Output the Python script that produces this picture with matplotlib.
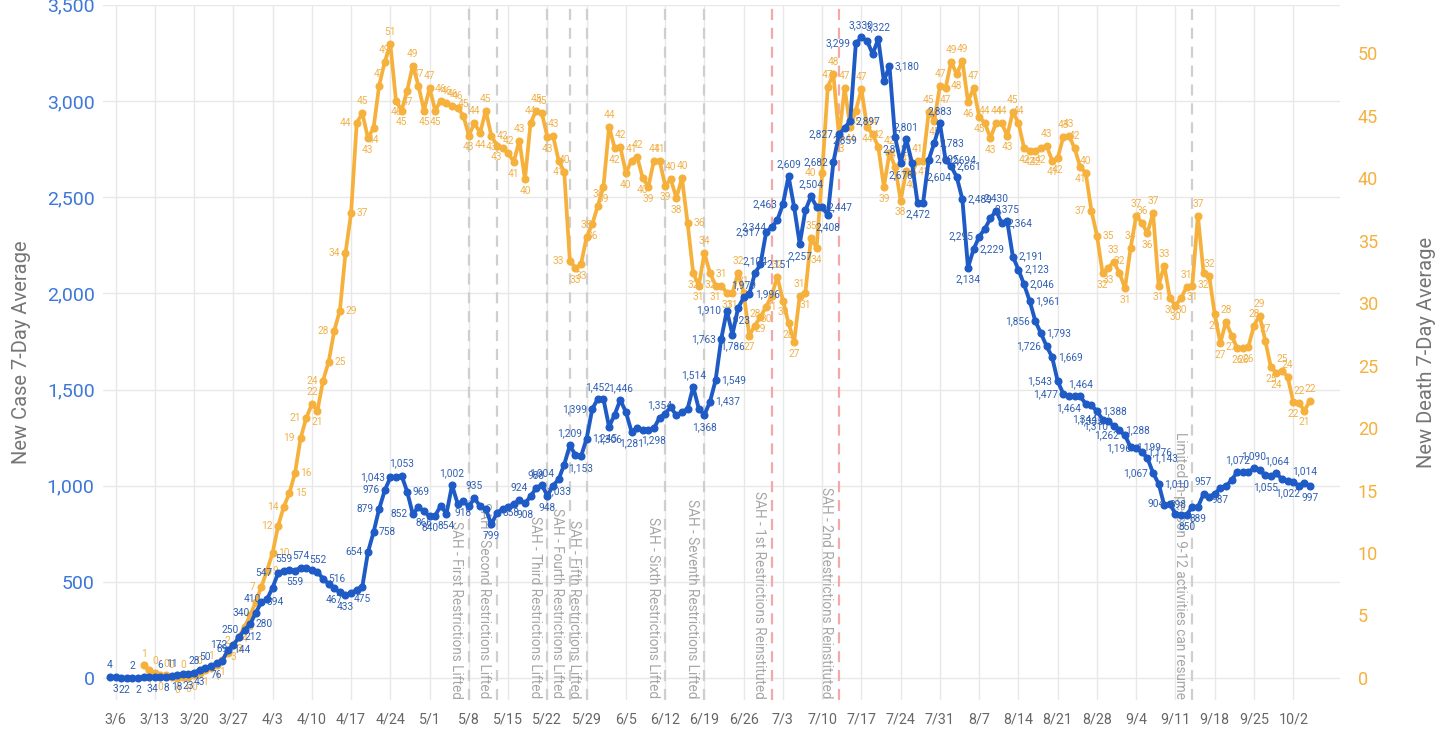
import matplotlib
matplotlib.use('Agg')
import matplotlib.dates as mdates
import matplotlib.pyplot as plt
import matplotlib.ticker as mticker
import matplotlib.transforms as mtransforms
import numpy as np
import pandas as pd

plt.rcParams['font.family'] = ['Roboto', 'DejaVu Sans']

start_date = '2020-03-05'

# new cases, 7-day average (one value per day from 3/5)
new_cases = [
    4, 3, 2, 2, 2, 2, 3, 3, 4, 6,
    8, 11, 18, 20, 23, 28, 43, 50, 62, 76,
    89, 144, 172, 212, 250, 280, 340, 394, 410, 470,
    547, 559, 562, 559, 574, 570, 560, 552, 516, 490,
    467, 445, 433, 440, 460, 475, 654, 758, 879, 976,
    1043, 1045, 1053, 969, 852, 889, 866, 840, 845, 897,
    854, 1002, 907, 918, 893, 935, 893, 880, 799, 858,
    880, 890, 905, 924, 908, 945, 988, 1004, 948, 1000,
    1033, 1110, 1209, 1160, 1153, 1245, 1399, 1452, 1450, 1306,
    1370, 1446, 1383, 1281, 1300, 1290, 1288, 1298, 1354, 1375,
    1408, 1365, 1382, 1400, 1514, 1400, 1368, 1437, 1549, 1763,
    1910, 1786, 1923, 1979, 1996, 2104, 2151, 2317, 2344, 2380,
    2463, 2609, 2448, 2257, 2431, 2504, 2450, 2447, 2408, 2682,
    2827, 2859, 2897, 3299, 3330, 3313, 3244, 3322, 3105, 3180,
    2812, 2678, 2801, 2680, 2472, 2472, 2695, 2783, 2883, 2694,
    2661, 2604, 2489, 2134, 2229, 2295, 2335, 2390, 2430, 2364,
    2375, 2191, 2123, 2046, 1961, 1856, 1793, 1726, 1669, 1543,
    1477, 1464, 1464, 1464, 1426, 1417, 1388, 1344, 1335, 1310,
    1288, 1262, 1199, 1196, 1176, 1143, 1067, 1010, 898, 904,
    855, 846, 850, 890, 889, 957, 941, 958, 987, 998,
    1028, 1072, 1071, 1071, 1090, 1080, 1055, 1050, 1064, 1033,
    1022, 1020, 1000, 1014, 997,
]

# new deaths, 7-day average (first reported on 3/11)
new_deaths = [
    np.nan, np.nan, np.nan, np.nan, np.nan, np.nan, 1.0, 0.6, 0.4, 0.2,
    0.2, 0.1, 0.0, 0.1, 0.1, 0.2, 0.4, 0.6, 0.8, 1.0,
    1.4, 2.0, 2.6, 3.3, 4.1, 5.0, 6.1, 7.3, 8.6, 10.0,
    12.2, 13.7, 14.8, 16.4, 19.2, 20.8, 21.9, 21.4, 23.8, 25.3,
    27.8, 29.4, 34.0, 37.2, 44.4, 45.2, 43.2, 44.0, 47.4, 49.3,
    50.7, 46.2, 45.4, 47.0, 49.0, 47.4, 45.4, 47.2, 45.4, 46.2,
    46.0, 45.8, 45.6, 45.0, 43.4, 44.4, 43.6, 45.4, 43.4, 42.6,
    42.4, 42.0, 41.3, 43.0, 39.9, 44.4, 45.4, 45.2, 43.3, 43.4,
    41.4, 40.5, 33.4, 32.8, 33.1, 35.3, 36.3, 37.8, 39.3, 44.1,
    42.4, 42.5, 40.4, 41.4, 41.7, 40.0, 39.3, 41.4, 41.4, 39.4,
    39.9, 38.4, 40.0, 36.4, 32.4, 31.4, 34.0, 32.4, 31.4, 31.4,
    30.8, 30.8, 32.4, 30.8, 27.4, 28.2, 28.9, 29.7, 30.6, 32.1,
    30.2, 28.4, 26.9, 30.6, 30.8, 35.2, 34.4, 40.4, 47.3, 48.3,
    43.3, 47.2, 44.1, 45.4, 47.1, 44.1, 43.5, 42.5, 39.3, 42.0,
    40.9, 38.2, 40.6, 40.4, 41.4, 41.4, 45.3, 44.6, 47.4, 47.2,
    49.3, 48.3, 49.4, 46.1, 47.2, 44.9, 44.4, 43.2, 44.4, 44.4,
    43.4, 45.3, 44.4, 42.4, 42.2, 42.2, 42.4, 42.6, 41.4, 41.6,
    43.3, 43.4, 42.4, 40.9, 40.4, 37.4, 35.4, 32.4, 32.8, 33.3,
    32.4, 31.2, 34.4, 37.0, 36.4, 35.6, 37.2, 31.4, 33.0, 30.4,
    29.8, 30.4, 31.3, 31.4, 37.0, 32.4, 32.2, 29.1, 26.8, 28.5,
    27.4, 26.4, 26.4, 26.5, 28.2, 29.0, 27.0, 24.9, 24.4, 24.6,
    24.1, 22.1, 22.0, 21.4, 22.2,
]

# which case points carry a value label, and on which side
case_label_sides = {
    0: 'a', 1: 'b', 2: 'b', 3: 'b', 4: 'a', 5: 'b', 7: 'b', 8: 'b', 9: 'a', 10: 'b',
    11: 'a', 12: 'b', 14: 'b', 15: 'a', 16: 'b', 17: 'a', 19: 'b', 20: 'a',
    21: 'r', 22: 'l', 23: 'r', 24: 'l', 25: 'r', 26: 'l', 27: 'r', 28: 'l', 30: 'l',
    31: 'a', 33: 'b', 34: 'a', 37: 'a', 38: 'r', 40: 'b', 42: 'b', 45: 'b',
    46: 'l', 47: 'r', 48: 'l', 49: 'l', 50: 'l', 52: 'a', 53: 'r', 54: 'l', 56: 'b',
    57: 'b', 60: 'b', 61: 'a', 63: 'b', 65: 'a', 68: 'b', 69: 'r', 73: 'a', 74: 'b',
    76: 'a', 77: 'a', 78: 'b', 80: 'b', 82: 'a', 84: 'b', 85: 'r', 86: 'l', 87: 'a',
    89: 'b', 91: 'a', 93: 'b', 97: 'b', 98: 'a',
    104: 'a', 106: 'b', 107: 'r', 108: 'r', 109: 'l', 110: 'l', 111: 'b', 112: 'b',
    113: 'a', 114: 'r', 115: 'a', 116: 'r', 117: 'l', 118: 'l', 120: 'l', 121: 'a',
    123: 'b', 125: 'a', 127: 'r', 128: 'b', 129: 'l', 130: 'l', 131: 'b', 132: 'r',
    133: 'l', 134: 'a', 137: 'a', 139: 'r', 140: 'b', 141: 'b', 142: 'a', 144: 'b',
    146: 'r', 147: 'r', 148: 'a', 149: 'r', 150: 'r', 151: 'l', 152: 'r', 153: 'b',
    154: 'r', 155: 'l', 158: 'a', 159: 'r', 160: 'a', 161: 'r', 162: 'r', 163: 'r',
    164: 'r', 165: 'l', 166: 'r', 167: 'l', 168: 'r', 169: 'l', 170: 'l', 171: 'b',
    173: 'a', 176: 'r', 177: 'l', 178: 'l', 179: 'l', 180: 'r', 181: 'l', 182: 'r',
    183: 'l', 184: 'r', 185: 'r', 186: 'l', 187: 'r', 188: 'r', 189: 'l', 192: 'b',
    194: 'b', 195: 'a', 198: 'b', 201: 'a', 204: 'a', 206: 'b', 208: 'a', 210: 'b',
    213: 'a', 214: 'b',
}

# death labels go on every point; these override the automatic side
death_label_sides = {
    27: 'l', 28: 'r', 29: 'r', 30: 'l', 31: 'l', 32: 'r', 33: 'r', 34: 'l', 35: 'l',
    36: 'a', 37: 'b', 38: 'l', 39: 'r', 40: 'l', 41: 'r', 42: 'l', 43: 'r', 44: 'l',
    45: 'a', 82: 'l', 103: 'r', 127: 'l', 175: 'l', 176: 'r',
}

events = [
    ('2020-05-08', 'SAH - First Restrictions Lifted', 'lifted'),
    ('2020-05-13', 'SAH - Second Restrictions Lifted', 'lifted'),
    ('2020-05-22', 'SAH - Third Restrictions Lifted', 'lifted'),
    ('2020-05-26', 'SAH - Fourth Restrictions Lifted', 'lifted'),
    ('2020-05-29', 'SAH - Fifth Restrictions Lifted', 'lifted'),
    ('2020-06-12', 'SAH - Sixth Restrictions Lifted', 'lifted'),
    ('2020-06-19', 'SAH - Seventh Restrictions Lifted', 'lifted'),
    ('2020-07-01', 'SAH - 1st Restrictions Reinstituted', 'reinstituted'),
    ('2020-07-13', 'SAH - 2nd Restrictions Reinstituted', 'reinstituted'),
    ('2020-09-14', 'Limited in-person 9-12 activities can resume', 'lifted'),
]

CASE_COLOR = '#1f5bc6'
CASE_TEXT = '#2f5fb3'
DEATH_COLOR = '#f6b13d'
DEATH_TEXT = '#f1b24c'
event_colors = {'lifted': '#cfcfcf', 'reinstituted': '#f2a9a9'}

OFFSETS = {'a': (0, 5), 'b': (0, -5), 'l': (-4, 0), 'r': (4, 0)}
HA = {'a': 'center', 'b': 'center', 'l': 'right', 'r': 'left'}
VA = {'a': 'bottom', 'b': 'top', 'l': 'center', 'r': 'center'}


def add_label(ax, x, y, text, side, color):
    ax.annotate(text, (x, y), xytext=OFFSETS[side], textcoords='offset points',
                ha=HA[side], va=VA[side], fontsize=7.3, color=color, zorder=6)


def main():
    dates = pd.date_range(start_date, periods=len(new_cases), freq='D')
    cases = np.array(new_cases, dtype=float)
    deaths = np.array(new_deaths, dtype=float)
    assert len(deaths) == len(cases)

    fig = plt.figure(figsize=(14.5, 7.38), dpi=100)
    ax = fig.add_axes([0.071, 0.0515, 0.853, 0.942])
    ax_d = ax.twinx()
    ax_c = fig.add_axes(ax.get_position(), sharex=ax, sharey=ax)
    ax_c.axis('off')

    ax.set_xlim(dates[0] - pd.Timedelta(days=1.25), dates[0] + pd.Timedelta(days=219.3))
    ax.set_ylim(-114, 3500)
    ax_d.set_ylim(-1.76, 53.86)

    # grid + axes styling
    week_ticks = pd.date_range('2020-03-06', periods=31, freq='7D')
    ax.xaxis.set_major_locator(mticker.FixedLocator(mdates.date2num(week_ticks)))
    ax.xaxis.set_major_formatter(mticker.FuncFormatter(
        lambda x, pos: '{}/{}'.format(mdates.num2date(x).month, mdates.num2date(x).day)))
    ax.set_yticks(np.arange(0, 3501, 500))
    ax.yaxis.set_major_formatter(mticker.StrMethodFormatter('{x:,.0f}'))
    ax_d.set_yticks(np.arange(0, 51, 5))
    ax.grid(True, color='#e8e8e8', linewidth=1.0)
    ax.set_axisbelow(True)
    for a in (ax, ax_d):
        for spine in a.spines.values():
            spine.set_visible(False)
    ax.tick_params(axis='x', length=0, pad=9, labelsize=10.3, labelcolor='#666666')
    ax.tick_params(axis='y', length=0, pad=6, labelsize=14, labelcolor='#3c78d8')
    ax_d.tick_params(axis='y', length=0, pad=13, labelsize=13, labelcolor='#f6b03e')
    ax.set_ylabel('New Case 7-Day Average', fontsize=14.5, color='#757575', labelpad=11)
    ax_d.set_ylabel('New Death 7-Day Average', fontsize=14.5, color='#757575', labelpad=28)

    # event markers
    text_trans = mtransforms.offset_copy(
        mtransforms.blended_transform_factory(ax.transData, ax.transAxes),
        fig=fig, x=-4, y=0, units='points')
    for day, label, kind in events:
        d = pd.Timestamp(day)
        ax.axvline(d, color=event_colors[kind], linewidth=1.6, linestyle=(0, (5, 3.5)), zorder=1)
        ax.text(d, 0.002, label, transform=text_trans, rotation=270, ha='right', va='bottom',
                fontsize=9.8, color='#a6a6a6', zorder=1)

    # deaths (right axis)
    ax_d.plot(dates, deaths, color=DEATH_COLOR, linewidth=2.7, marker='o', markersize=4.8,
              zorder=3)
    for i, v in enumerate(deaths):
        if np.isnan(v):
            continue
        side = death_label_sides.get(i)
        if side is None:
            prev_v = deaths[i - 1] if i > 0 and not np.isnan(deaths[i - 1]) else v
            next_v = deaths[i + 1] if i + 1 < len(deaths) else v
            side = 'a' if v >= (prev_v + next_v) / 2 else 'b'
        add_label(ax_d, dates[i], v, '{:.0f}'.format(v), side, DEATH_TEXT)

    # cases (left axis), drawn on top
    ax_c.plot(dates, cases, color=CASE_COLOR, linewidth=2.8, marker='o', markersize=4.8,
              zorder=4)
    for i, side in case_label_sides.items():
        add_label(ax_c, dates[i], cases[i], '{:,.0f}'.format(cases[i]), side, CASE_TEXT)

    fig.savefig('out.png', dpi=100)


if __name__ == '__main__':
    main()
